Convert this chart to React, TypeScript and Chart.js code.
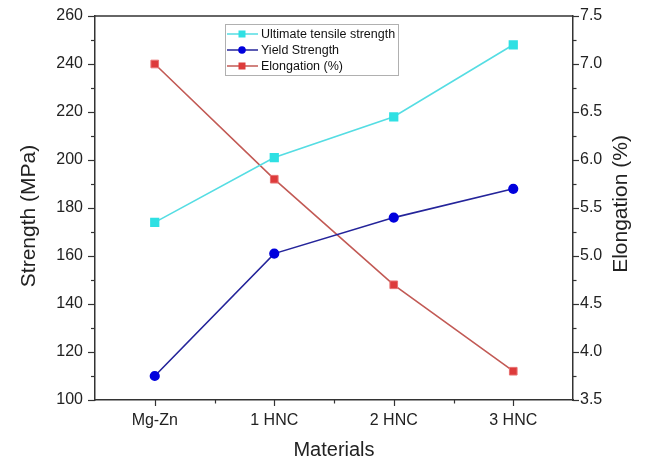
import React, { useEffect, useRef } from "react";
import { Chart, registerables } from "chart.js";

Chart.register(...registerables);

const categories = ["Mg-Zn", "1 HNC", "2 HNC", "3 HNC"];
const utsValues = [174, 201, 218, 248];
const yieldValues = [110, 161, 176, 188];
const elongationValues = [7.0, 5.8, 4.7, 3.8];
const seriesNames = ["Ultimate tensile strength", "Yield Strength", "Elongation (%)"];
const xTitle = "Materials";
const yTitle = "Strength (MPa)";
const y1Title = "Elongation (%)";

const FONT = "Arial, 'Liberation Sans', sans-serif";
const AXIS = "#333333";

const framePlugin = {
  id: "frameAndTicks",
  afterDraw(chart: any) {
    const ctx = chart.ctx;
    const a = chart.chartArea;
    const y = chart.scales.y;
    const y1 = chart.scales.y1;
    const x = chart.scales.x;
    ctx.save();
    ctx.strokeStyle = AXIS;
    ctx.lineWidth = 1.5;
    // top frame line
    ctx.beginPath();
    ctx.moveTo(a.left, a.top);
    ctx.lineTo(a.right, a.top);
    ctx.stroke();
    ctx.lineWidth = 1.2;
    // left ticks
    for (let v = y.min; v <= y.max + 1e-9; v += 10) {
      const p = Math.round(y.getPixelForValue(v)) + 0.5;
      const major = Math.abs((v - y.min) % 20) < 1e-6;
      ctx.beginPath();
      ctx.moveTo(a.left - (major ? 7 : 4), p);
      ctx.lineTo(a.left, p);
      ctx.stroke();
    }
    // right ticks
    for (let v = y1.min; v <= y1.max + 1e-9; v += 0.25) {
      const p = Math.round(y1.getPixelForValue(v)) + 0.5;
      const major = Math.abs(((v - y1.min) / 0.5) - Math.round((v - y1.min) / 0.5)) < 1e-6;
      ctx.beginPath();
      ctx.moveTo(a.right, p);
      ctx.lineTo(a.right + (major ? 6 : 3.5), p);
      ctx.stroke();
    }
    // bottom ticks
    for (let i = 0; i < categories.length; i++) {
      const p = Math.round(x.getPixelForValue(i)) + 0.5;
      ctx.beginPath();
      ctx.moveTo(p, a.bottom);
      ctx.lineTo(p, a.bottom + 6);
      ctx.stroke();
      if (i < categories.length - 1) {
        const q = Math.round((x.getPixelForValue(i) + x.getPixelForValue(i + 1)) / 2) + 0.5;
        ctx.beginPath();
        ctx.moveTo(q, a.bottom);
        ctx.lineTo(q, a.bottom + 3.5);
        ctx.stroke();
      }
    }
    // titles
    ctx.fillStyle = "#222222";
    ctx.font = `20px ${FONT}`;
    ctx.textAlign = "center";
    ctx.textBaseline = "middle";
    ctx.fillText(xTitle, (a.left + a.right) / 2, 450);
    ctx.font = `21px ${FONT}`;
    ctx.save();
    ctx.translate(29, 216);
    ctx.rotate(-Math.PI / 2);
    ctx.fillText(yTitle, 0, 0);
    ctx.restore();
    ctx.save();
    ctx.translate(621, 204);
    ctx.rotate(-Math.PI / 2);
    ctx.fillText(y1Title, 0, 0);
    ctx.restore();

    // legend
    const lx = a.left + 130;
    const ly = a.top + 8;
    const lw = 173;
    const lh = 51;
    ctx.fillStyle = "#ffffff";
    ctx.fillRect(lx, ly, lw, lh);
    ctx.strokeStyle = "#b0b0b0";
    ctx.lineWidth = 1;
    ctx.strokeRect(lx + 0.5, ly + 0.5, lw, lh);
    ctx.font = `12.5px ${FONT}`;
    ctx.textAlign = "left";
    ctx.textBaseline = "middle";
    const ds = chart.data.datasets;
    for (let i = 0; i < ds.length; i++) {
      const ry = ly + 10 + i * 16;
      ctx.strokeStyle = ds[i].borderColor;
      ctx.lineWidth = 1.5;
      ctx.beginPath();
      ctx.moveTo(lx + 2, ry);
      ctx.lineTo(lx + 33, ry);
      ctx.stroke();
      ctx.fillStyle = ds[i].pointBackgroundColor;
      const cx = lx + 17;
      if (ds[i].pointStyle === "circle") {
        ctx.beginPath();
        ctx.arc(cx, ry, 3.8, 0, Math.PI * 2);
        ctx.fill();
      } else {
        ctx.fillRect(cx - 3.5, ry - 3.5, 7, 7);
      }
      ctx.fillStyle = "#111111";
      ctx.fillText(ds[i].label, lx + 36, ry + 0.5);
    }
    ctx.restore();
  },
};

export default function App() {
  const ref = useRef<HTMLCanvasElement>(null);
  useEffect(() => {
    document.body.style.margin = "0";
    const canvas = ref.current!;
    const chart = new Chart(canvas, {
      type: "line",
      data: {
        labels: categories,
        datasets: [
          {
            label: seriesNames[0],
            data: utsValues,
            yAxisID: "y",
            borderColor: "#55dde3",
            backgroundColor: "#2fe0e3",
            pointBackgroundColor: "#2fe0e3",
            pointBorderColor: "#2fe0e3",
            pointStyle: "rect",
            pointRadius: 5.4,
            borderWidth: 1.6,
            tension: 0,
          },
          {
            label: seriesNames[1],
            data: yieldValues,
            yAxisID: "y",
            borderColor: "#24249a",
            backgroundColor: "#0000dd",
            pointBackgroundColor: "#0000dd",
            pointBorderColor: "#0000dd",
            pointStyle: "circle",
            pointRadius: 4.3,
            borderWidth: 1.6,
            tension: 0,
          },
          {
            label: seriesNames[2],
            data: elongationValues,
            yAxisID: "y1",
            borderColor: "#c25a55",
            backgroundColor: "#dd3b3b",
            pointBackgroundColor: "#dd3b3b",
            pointBorderColor: "#e87070",
            pointStyle: "rect",
            pointRadius: 5.4,
            pointBorderWidth: 1,
            borderWidth: 1.6,
            tension: 0,
          },
        ],
      },
      options: {
        responsive: false,
        animation: false,
        layout: { padding: { top: 16, left: 0, right: 0, bottom: 0 } },
        plugins: { legend: { display: false }, tooltip: { enabled: false } },
        scales: {
          x: {
            type: "category",
            offset: true,
            grid: { display: false, drawTicks: false },
            border: { display: true, color: AXIS, width: 1.5 },
            ticks: { font: { size: 16, family: FONT }, color: "#222", padding: 11, maxRotation: 0 },
            afterFit: (s: any) => { s.height = 60; s.paddingLeft = 0; s.paddingRight = 0; },
          },
          y: {
            position: "left",
            min: 100,
            max: 260,
            grid: { display: false, drawTicks: false },
            border: { display: true, color: AXIS, width: 1.5 },
            ticks: { stepSize: 20, font: { size: 16, family: FONT }, color: "#222", padding: 12 },
            afterFit: (s: any) => { s.width = 95; s.paddingTop = 0; s.paddingBottom = 0; },
          },
          y1: {
            position: "right",
            min: 3.5,
            max: 7.5,
            grid: { display: false, drawTicks: false },
            border: { display: true, color: AXIS, width: 1.5 },
            ticks: {
              stepSize: 0.5,
              font: { size: 16, family: FONT },
              color: "#222",
              padding: 7,
              callback: (v: any) => Number(v).toFixed(1),
            },
            afterFit: (s: any) => { s.width = 73; s.paddingTop = 0; s.paddingBottom = 0; },
          },
        },
      },
      plugins: [framePlugin],
    });
    return () => chart.destroy();
  }, []);
  return (
    <div style={{ width: 646, height: 460, background: "#fff" }}>
      <canvas ref={ref} width={646} height={460} />
    </div>
  );
}
